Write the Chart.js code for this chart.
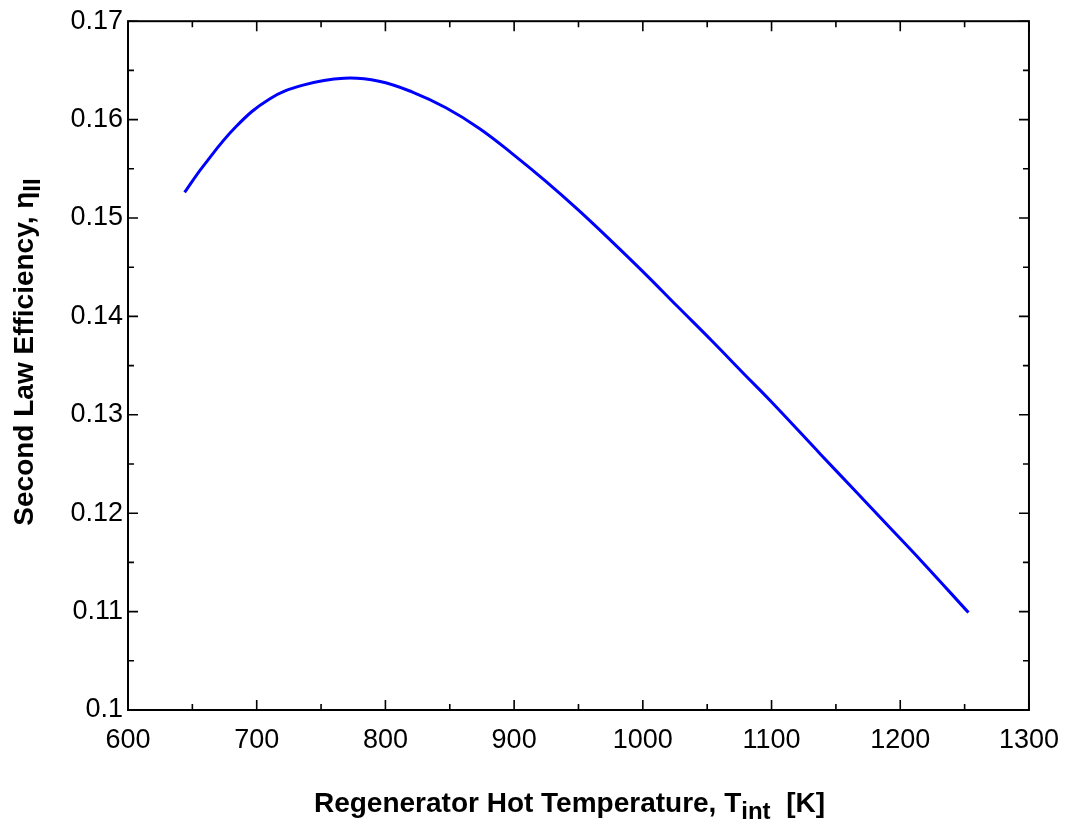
<!DOCTYPE html>
<html>
<head>
<meta charset="utf-8">
<script src="https://cdn.jsdelivr.net/npm/chart.js@4.4.1/dist/chart.umd.min.js"></script>
<style>
  html, body { margin: 0; padding: 0; background: #fff; }
  canvas { display: block; }
</style>
</head>
<body>
<canvas id="c" width="1073" height="826"></canvas>
<script>
// ---- data ----
const tempK = [644, 658, 684, 710, 736, 768, 795, 821, 847, 873, 898, 924, 950, 976, 1002, 1027, 1053, 1079, 1100, 1138, 1164, 1190, 1216, 1253];
const etaII = [0.1526, 0.1552, 0.1593, 0.1621, 0.1635, 0.1642, 0.1639, 0.1628, 0.1612, 0.1591, 0.1566, 0.1538, 0.1508, 0.1476, 0.1443, 0.1410, 0.1376, 0.1341, 0.1313, 0.1260, 0.1224, 0.1188, 0.1152, 0.1099];

const xTicks = [600, 700, 800, 900, 1000, 1100, 1200, 1300];
const xTickLabels = ['600', '700', '800', '900', '1000', '1100', '1200', '1300'];
const xMinorTicks = [650, 750, 850, 950, 1050, 1150, 1250];
const yTicks = [0.10, 0.11, 0.12, 0.13, 0.14, 0.15, 0.16, 0.17];
const yTickLabels = ['0.1', '0.11', '0.12', '0.13', '0.14', '0.15', '0.16', '0.17'];
const yMinorTicks = [0.105, 0.115, 0.125, 0.135, 0.145, 0.155, 0.165];

const xTitleParts = [{t: 'Regenerator Hot Temperature, T'}, {t: 'int', sub: true}, {t: '  [K]'}];
const yTitleParts = [{t: 'Second Law Efficiency, η'}, {t: 'II', sub: true}];

const FONT = '"Liberation Sans", Arial, Helvetica, sans-serif';

function drawRich(ctx, parts, size, subSize, subDrop) {
  let total = 0;
  const widths = parts.map(p => {
    ctx.font = 'bold ' + (p.sub ? subSize : size) + 'px ' + FONT;
    const w = ctx.measureText(p.t).width;
    total += w;
    return w;
  });
  let x = -total / 2;
  parts.forEach((p, i) => {
    ctx.font = 'bold ' + (p.sub ? subSize : size) + 'px ' + FONT;
    ctx.fillText(p.t, x, p.sub ? subDrop : 0);
    x += widths[i];
  });
}

const framePlugin = {
  id: 'frame',
  afterDraw(chart) {
    const ctx = chart.ctx;
    const a = chart.chartArea;
    const xs = chart.scales.x, ys = chart.scales.y;
    ctx.save();
    ctx.strokeStyle = '#000';
    ctx.lineWidth = 2;
    ctx.strokeRect(a.left, a.top, a.right - a.left, a.bottom - a.top);
    ctx.lineWidth = 1.6;
    ctx.beginPath();
    const tick = (vals, len) => {
      vals.forEach(v => {
        const px = xs.getPixelForValue(v);
        ctx.moveTo(px, a.bottom); ctx.lineTo(px, a.bottom - len);
        ctx.moveTo(px, a.top); ctx.lineTo(px, a.top + len);
      });
    };
    const tickY = (vals, len) => {
      vals.forEach(v => {
        const py = ys.getPixelForValue(v);
        ctx.moveTo(a.left, py); ctx.lineTo(a.left + len, py);
        ctx.moveTo(a.right, py); ctx.lineTo(a.right - len, py);
      });
    };
    tick(xTicks, 10); tick(xMinorTicks, 6);
    tickY(yTicks, 10); tickY(yMinorTicks, 6);
    ctx.stroke();

    ctx.fillStyle = '#000';
    ctx.textBaseline = 'alphabetic';
    ctx.textAlign = 'left';
    // x title
    ctx.save();
    ctx.translate((a.left + a.right) / 2 - 9, 812);
    drawRich(ctx, xTitleParts, 28, 24, 7);
    ctx.restore();
    // y title
    ctx.save();
    ctx.translate(33, 352);
    ctx.rotate(-Math.PI / 2);
    drawRich(ctx, yTitleParts, 28, 24, 7);
    ctx.restore();
    ctx.restore();
  }
};

new Chart(document.getElementById('c'), {
  type: 'line',
  data: {
    datasets: [{
      data: tempK.map((x, i) => ({x: x, y: etaII[i]})),
      borderColor: '#0000FF',
      borderWidth: 3,
      pointRadius: 0,
      fill: false,
      tension: 0.4
    }]
  },
  options: {
    responsive: false,
    animation: false,
    layout: { padding: { top: 17, right: 41, left: 0, bottom: 0 } },
    plugins: { legend: { display: false }, tooltip: { enabled: false } },
    scales: {
      x: {
        type: 'linear', min: 600, max: 1300,
        afterBuildTicks: s => { s.ticks = xTicks.map(v => ({value: v})); },
        afterFit: s => { s.height = 116; },
        grid: { display: false, drawTicks: false },
        border: { display: false },
        ticks: {
          autoSkip: false, maxRotation: 0, padding: 14, color: '#000',
          font: { family: FONT, size: 27 },
          callback: (v, i) => xTickLabels[i]
        }
      },
      y: {
        type: 'linear', min: 0.1, max: 0.17,
        afterBuildTicks: s => { s.ticks = yTicks.map(v => ({value: v})); },
        afterFit: s => { s.width = 128; },
        grid: { display: false, drawTicks: false },
        border: { display: false },
        ticks: {
          autoSkip: false, padding: 5, color: '#000',
          font: { family: FONT, size: 27 },
          callback: (v, i) => yTickLabels[i]
        }
      }
    }
  },
  plugins: [framePlugin]
});
</script>
</body>
</html>
